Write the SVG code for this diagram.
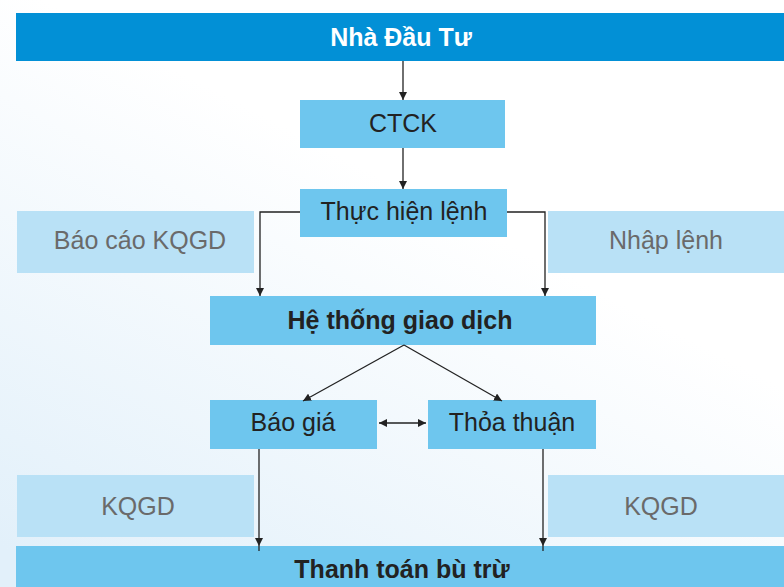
<svg xmlns="http://www.w3.org/2000/svg" width="784" height="587" viewBox="0 0 784 587">
<defs>
<linearGradient id="bg" x1="0.8" y1="0" x2="0.1" y2="1">
<stop offset="0" stop-color="#ffffff"/>
<stop offset="0.35" stop-color="#ffffff"/>
<stop offset="1" stop-color="#e2f0fa"/>
</linearGradient>
<marker id="ah" viewBox="0 0 10 10" refX="10" refY="5" markerWidth="8" markerHeight="8" markerUnits="userSpaceOnUse" orient="auto-start-reverse">
<path d="M0,0 L10,5 L0,10 z" fill="#222"/>
</marker>
<style>
.main{fill:#6ec6ee}
.side{fill:#b9e1f6}
.t{font-family:"Liberation Sans",Arial,sans-serif;font-size:25px;fill:#222;text-anchor:middle}
.b{font-weight:bold}
.g{fill:#6a6a6a}
.w{fill:#ffffff}
.ln{stroke:#222;stroke-width:1.3;fill:none}
</style>
</defs>
<rect width="784" height="587" fill="url(#bg)"/>

<g id="nha-dau-tu">
<rect x="16" y="13" width="768" height="48" fill="#0290d6"/>
<text class="t b w" x="401" y="46" font-size="29">Nhà Đầu Tư</text>
</g>
<g id="ctck">
<rect class="main" x="300" y="100" width="205" height="48"/>
<text class="t" x="403" y="132">CTCK</text>
</g>
<g id="thuc-hien-lenh">
<rect class="main" x="300" y="189" width="207" height="48"/>
<text class="t" x="404" y="220">Thực hiện lệnh</text>
</g>
<g id="bao-cao-kqgd">
<rect class="side" x="17" y="211" width="237" height="62"/>
<text class="t g" x="140" y="249">Báo cáo KQGD</text>
</g>
<g id="nhap-lenh">
<rect class="side" x="548" y="211" width="236" height="62"/>
<text class="t g" x="666" y="249">Nhập lệnh</text>
</g>
<g id="he-thong-giao-dich">
<rect class="main" x="210" y="296" width="386" height="49"/>
<text class="t b" x="400" y="329">Hệ thống giao dịch</text>
</g>
<g id="bao-gia">
<rect class="main" x="210" y="400" width="167" height="49"/>
<text class="t" x="293" y="431">Báo giá</text>
</g>
<g id="thoa-thuan">
<rect class="main" x="428" y="400" width="168" height="49"/>
<text class="t" x="512" y="431">Thỏa thuận</text>
</g>
<g id="kqgd-left">
<rect class="side" x="17" y="475" width="237" height="62"/>
<text class="t g" x="138" y="515">KQGD</text>
</g>
<g id="kqgd-right">
<rect class="side" x="548" y="475" width="236" height="62"/>
<text class="t g" x="661" y="515">KQGD</text>
</g>
<g id="thanh-toan-bu-tru">
<rect class="main" x="16" y="546" width="768" height="41"/>
<text class="t b" x="402" y="578" font-size="26.5">Thanh toán bù trừ</text>
</g>

<g id="connectors">
<line class="ln" x1="403" y1="61" x2="403" y2="100" marker-end="url(#ah)"/>
<line class="ln" x1="403" y1="148" x2="403" y2="189" marker-end="url(#ah)"/>
<polyline class="ln" points="300,212 260,212 260,296" marker-end="url(#ah)"/>
<polyline class="ln" points="507,212 545,212 545,296" marker-end="url(#ah)"/>
<line class="ln" x1="404" y1="345" x2="303" y2="401" marker-end="url(#ah)"/>
<line class="ln" x1="404" y1="345" x2="502" y2="401" marker-end="url(#ah)"/>
<line class="ln" x1="379" y1="423" x2="426" y2="423" marker-start="url(#ah)" marker-end="url(#ah)"/>
<line class="ln" x1="259" y1="449" x2="259" y2="546" marker-end="url(#ah)"/>
<line class="ln" x1="259" y1="546" x2="259" y2="551"/>
<line class="ln" x1="543" y1="449" x2="543" y2="546" marker-end="url(#ah)"/>
<line class="ln" x1="543" y1="546" x2="543" y2="551"/>
</g>
</svg>
